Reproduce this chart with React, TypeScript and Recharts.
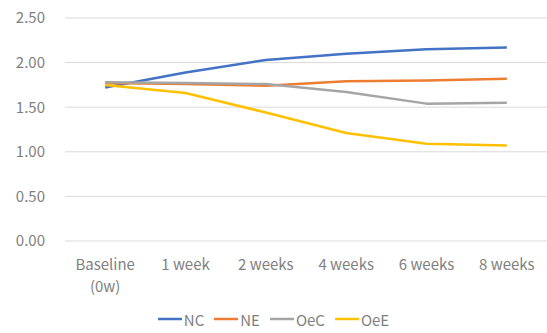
import { CartesianGrid, Legend, Line, LineChart, XAxis, YAxis } from "recharts";

const categories = ["Baseline\n(0w)", "1 week", "2 weeks", "4 weeks", "6 weeks", "8 weeks"];
const nc = [1.72, 1.89, 2.03, 2.1, 2.15, 2.17];
const ne = [1.77, 1.76, 1.74, 1.79, 1.8, 1.82];
const oec = [1.78, 1.77, 1.76, 1.67, 1.54, 1.55];
const oee = [1.75, 1.66, 1.44, 1.21, 1.09, 1.07];
const yTicks = [0, 0.5, 1, 1.5, 2, 2.5];

const series = [
    {key: "NC", color: "#4472C4"},
    {key: "NE", color: "#ED7D31"},
    {key: "OeC", color: "#A5A5A5"},
    {key: "OeE", color: "#FFC000"},
];

const data = categories.map((name, i) => ({
    name,
    NC: nc[i],
    NE: ne[i],
    OeC: oec[i],
    OeE: oee[i],
}));

const FONT = "'Noto Sans CJK JP', 'Noto Sans', sans-serif";
const TEXT = "#7f7f7f";

function XTick({x, y, payload}: any) {
    const lines = String(payload.value).split("\n");
    return (
        <text x={x} y={y} textAnchor="middle" fill={TEXT} fontSize={15} fontFamily={FONT}>
            {lines.map((l, i) => (
                <tspan key={i} x={x} dy={i === 0 ? 21 : 22}>{l}</tspan>
            ))}
        </text>
    );
}

function LegendContent() {
    return (
        <div style={{height: 28, display: "flex", justifyContent: "center", alignItems: "center",
            fontFamily: FONT, fontSize: 15, color: TEXT, paddingLeft: 10}}>
            {series.map(s => (
                <div key={s.key} style={{display: "flex", alignItems: "center", marginRight: 10}}>
                    <svg width={24} height={4} style={{marginRight: 2}}>
                        <line x1={0} y1={2} x2={24} y2={2} stroke={s.color} strokeWidth={2.5}/>
                    </svg>
                    <span>{s.key}</span>
                </div>
            ))}
        </div>
    );
}

export default function App() {
    return (
        <div style={{position: "absolute", left: 0, top: 0}}>
            <LineChart
                width={547}
                height={333}
                data={data}
                margin={{top: 18, right: 0, left: 0, bottom: 0}}
            >
                <CartesianGrid vertical={false} stroke="#d9d9d9"/>
                <XAxis
                    dataKey="name"
                    scale="band"
                    axisLine={false}
                    tickLine={false}
                    height={64}
                    interval={0}
                    tick={<XTick/>}
                />
                <YAxis
                    domain={[0, 2.5]}
                    ticks={yTicks}
                    axisLine={false}
                    tickLine={false}
                    width={65}
                    tickSize={0}
                    tickMargin={20}
                    tickFormatter={(v: number) => v.toFixed(2)}
                    tick={{fill: TEXT, fontSize: 15, fontFamily: FONT}}
                />
                <Legend verticalAlign="bottom" content={<LegendContent/>}/>
                {series.map(s => (
                    <Line
                        key={s.key}
                        dataKey={s.key}
                        type="linear"
                        stroke={s.color}
                        strokeWidth={2.5}
                        strokeLinejoin="round"
                        dot={false}
                        isAnimationActive={false}
                    />
                ))}
            </LineChart>
        </div>
    );
}
